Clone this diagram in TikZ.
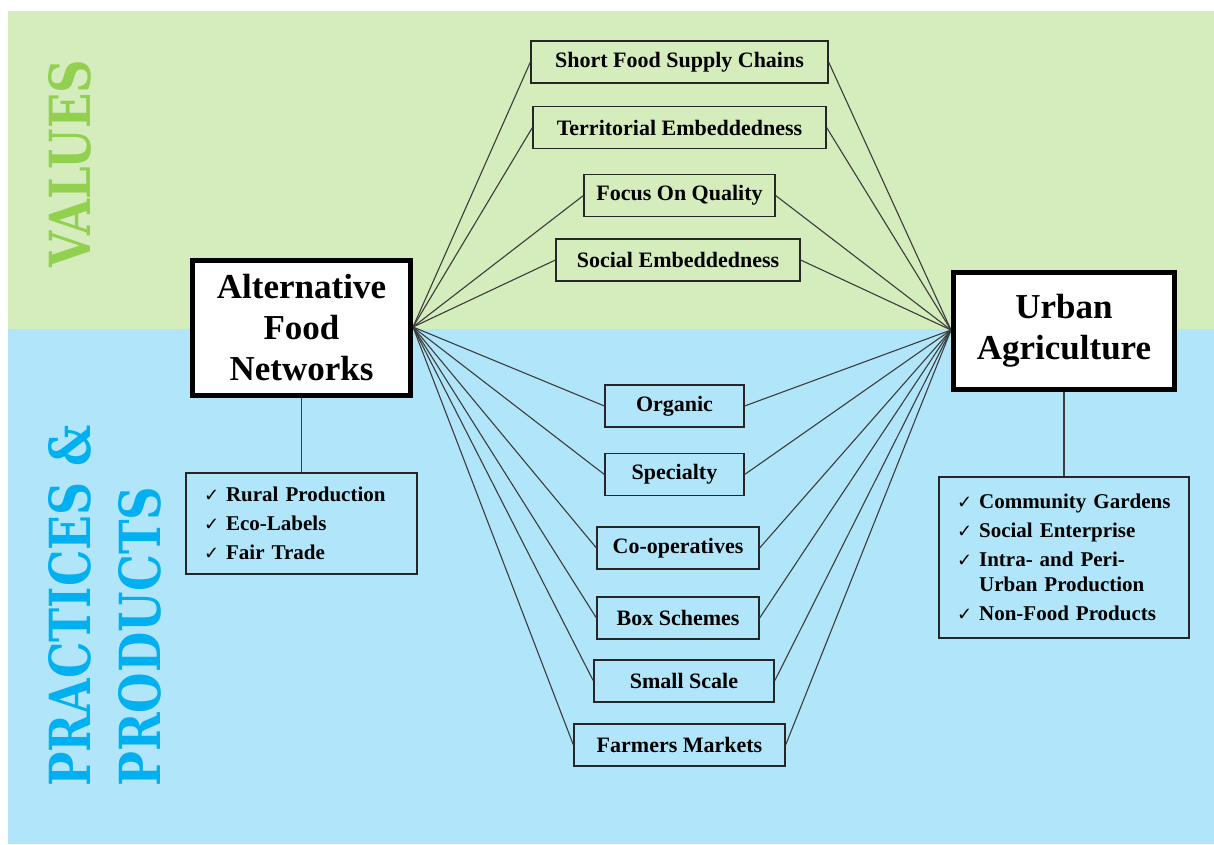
\documentclass[tikz,border=0pt]{standalone}
\usepackage{fontspec}
\setmainfont{Liberation Serif}
\newfontfamily\symfont{DejaVu Sans}
\newfontfamily\bandfont{DejaVu Serif}

\definecolor{valgreen}{HTML}{D5ECBD}
\definecolor{pracblue}{HTML}{B1E6FA}
\definecolor{titlegreen}{HTML}{92D050}
\definecolor{titleblue}{HTML}{00B0F0}
\definecolor{linegray}{HTML}{3C3C3C}
\newcommand{\chk}{{\symfont\fontsize{18}{18}\selectfont\char"2713}\hspace{7pt}}

\begin{document}
\begin{tikzpicture}[x=1pt,y=-1pt,
    box/.style={draw=black!85, line width=1.2pt, font=\bfseries\fontsize{22}{26}\selectfont, inner sep=0pt, minimum height=42pt},
    hub/.style={draw=black, line width=5pt, fill=white, font=\bfseries\fontsize{35}{41}\selectfont, align=center, inner sep=0pt},
    checklist/.style={draw=black!85, line width=1.2pt, font=\bfseries\fontsize{21}{25}\selectfont, align=left, inner xsep=18pt, inner ysep=0pt},
    link/.style={draw=linegray, line width=1.1pt},
    title/.style={rotate=90, anchor=base west, inner sep=0pt, font=\bandfont\bfseries\fontsize{60}{60}\selectfont}]

    \useasboundingbox (0,0) rectangle (1214,844);

    % Background bands
    \fill[valgreen] (8,11) rectangle (1214,329);
    \fill[pracblue] (8,329) rectangle (1214,844);

    % Band titles
    \node[title, text=titlegreen] (values) at (90,268) {\resizebox{208pt}{42pt}{VALUES}};
    \node[title, text=titleblue] (practices) at (90,787) {\resizebox{362pt}{42pt}{PRACTICES \&}};
    \node[title, text=titleblue] (products) at (160,787) {\resizebox{300pt}{42pt}{PRODUCTS}};

    % Shared values
    \node[box, minimum width=297pt] (sfsc) at (679.5,62) {Short Food Supply Chains};
    \node[box, minimum width=293pt] (terr) at (679.5,127.5) {Territorial Embeddedness};
    \node[box, minimum width=191pt] (focus) at (679.5,195.5) {Focus On Quality};
    \node[box, minimum width=244pt] (social) at (678,260) {Social Embeddedness};

    % Shared practices
    \node[box, minimum width=139pt] (organic) at (674.5,406) {Organic};
    \node[box, minimum width=139pt] (special) at (674.5,474.5) {Specialty};
    \node[box, minimum width=162pt] (coop) at (678,548) {Co-operatives};
    \node[box, minimum width=162pt] (boxsch) at (678,618) {Box Schemes};
    \node[box, minimum width=180pt] (small) at (684,681) {Small Scale};
    \node[box, minimum width=211pt] (farmers) at (679.5,745) {Farmers Markets};

    % Links to both hubs
    \coordinate (afnport) at (413,327);
    \coordinate (uaport) at (951,330);
    \foreach \n in {sfsc,terr,focus,social,organic,special,coop,boxsch,small,farmers} {
        \draw[link] (afnport) -- (\n.west);
        \draw[link] (uaport) -- (\n.east);
    }

    % Hubs
    \node[hub, minimum width=218pt, minimum height=135pt] (afn) at (301.5,328) {Alternative\\Food\\Networks};
    \node[hub, minimum width=221pt, minimum height=117pt] (ua) at (1064,331) {Urban\\Agriculture};

    % Own practices of each hub
    \node[checklist, text width=195pt, minimum height=101pt] (afnlist) at (301.5,523.5)
        {\chk Rural Production\\[4pt]\chk Eco-Labels\\[4pt]\chk Fair Trade};
    \node[checklist, text width=214pt, minimum height=161pt] (ualist) at (1064,557.5)
        {\chk Community Gardens\\[4pt]\chk Social Enterprise\\[4pt]\chk Intra- and Peri-\\\phantom{\chk}Urban Production\\[4pt]\chk Non-Food Products};
    \draw[link] (afn.south) -- (afnlist.north);
    \draw[link] (ua.south) -- (ualist.north);

\end{tikzpicture}
\end{document}
